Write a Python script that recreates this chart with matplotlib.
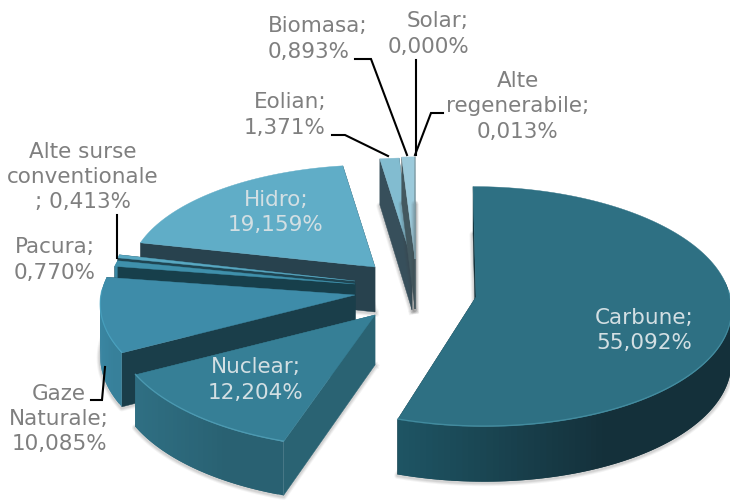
import numpy as np
import matplotlib
matplotlib.use("Agg")
import matplotlib.pyplot as plt
from matplotlib.colors import to_rgb

# ---- data ----
names = ["Carbune", "Nuclear", "Gaze Naturale", "Pacura", "Alte surse conventionale",
         "Hidro", "Eolian", "Biomasa", "Solar", "Alte regenerabile"]
values = [55.092, 12.204, 10.085, 0.770, 0.413, 19.159, 1.371, 0.893, 0.000, 0.013]
label_texts = ["Carbune;\n55,092%", "Nuclear;\n12,204%", "Gaze\nNaturale;\n10,085%",
               "Pacura;\n0,770%", "Alte surse\nconventionale\n; 0,413%", "Hidro;\n19,159%",
               "Eolian;\n1,371%", "Biomasa;\n0,893%", "Solar;\n0,000%",
               "Alte\nregenerabile;\n0,013%"]

# ---- layout: apex x, apex y, rx, ry, depth, front shear, back shear ----
geom = {
    "Carbune": (476, 297, 254, 120, 51, 8, 3),
    "Nuclear": (375, 315, 259, 124, 50, -4, 0),
    "Gaze Naturale": (355, 295, 254, 120, 52, 0, 0),
    "Pacura": (355, 284, 246, 120, 50, 0, 0),
    "Alte surse conventionale": (355, 281, 246, 120, 50, 0, 0),
    "Hidro": (375, 267, 245, 111, 45, 0, 0),
    "Eolian": (412, 260, 245, 111, 50, 0, 0),
    "Biomasa": (415, 259, 254, 111, 50, 0, 0),
    "Solar": (415, 259, 254, 111, 50, 0, 0),
    "Alte regenerabile": (415, 259, 254, 111, 50, 0, 0),
}
# top, cut face, wall left end, wall right end, rim
style = {
    "Carbune": ("#2e7083", "#123039", "#1e5564", "#14303a", "#4a97ab"),
    "Nuclear": ("#367f96", "#2a6373", "#2f6f83", "#296172", "#55a5bd"),
    "Gaze Naturale": ("#3e8ca9", "#1a3e4a", "#3a86a2", "#37809a", "#4aa6c4"),
    "Pacura": ("#3f90ab", "#173f4b", "#3a86a2", "#3a86a2", "#4aa6c4"),
    "Alte surse conventionale": ("#58a8c2", "#1f4552", "#4f9ab3", "#4f9ab3", "#6ab8d0"),
    "Hidro": ("#60adc7", "#28424e", "#4f93aa", "#4f93aa", "#74bdd4"),
    "Eolian": ("#82bcd0", "#374f5b", "#374f5b", "#374f5b", "#82bcd0"),
    "Biomasa": ("#9ccadb", "#43585f", "#43585f", "#43585f", "#9ccadb"),
    "Solar": ("#9ccadb", "#43585f", "#43585f", "#43585f", "#9ccadb"),
    "Alte regenerabile": ("#a6d0de", "#43585f", "#43585f", "#43585f", "#a6d0de"),
}
draw_order = ["Hidro", "Eolian", "Biomasa", "Solar", "Alte regenerabile",
              "Alte surse conventionale", "Pacura", "Gaze Naturale", "Nuclear", "Carbune"]

label_pos = {
    "Carbune": (644, 330.5, "#d3dfe3", "center"), "Nuclear": (256, 380, "#d3dfe3", "center"),
    "Hidro": (276, 212.5, "#d3dfe3", "center"),
    "Gaze Naturale": (59, 419, "#7f7f7f", "center"), "Pacura": (55, 260, "#7f7f7f", "center"),
    "Alte surse conventionale": (83, 177, "#7f7f7f", "center"),
    "Eolian": (326, 115, "#7f7f7f", "right"),
    "Biomasa": (268, 39, "#7f7f7f", "left"), "Solar": (469, 34, "#7f7f7f", "right"),
    "Alte regenerabile": (518, 106.5, "#7f7f7f", "center"),
}
leaders = [
    ([332, 345, 388], [135, 135, 156]),
    ([355, 371, 407], [59, 59, 155]),
    ([415.5, 415.5], [60, 155]),
    ([443, 431, 415], [113, 113, 155]),
    ([117, 117], [215, 258]),
    ([105, 102, 91], [367, 400, 400]),
]
PERSP = 0.08

fig = plt.figure(figsize=(7.3, 5), dpi=100)
ax = fig.add_axes([0, 0, 1, 1])
ax.set_xlim(0, 730)
ax.set_ylim(500, 0)
ax.axis("off")


def project(name, theta, r=1.0, z=0.0):
    """theta in degrees clockwise from 12 o'clock; z = 0 top, 1 bottom."""
    cx, cy, rx, ry, d, shear, back = geom[name]
    t = np.radians(theta)
    u, v = r * np.sin(t), -r * np.cos(t)
    s = 1 + PERSP * v
    return (cx + rx * u * s + shear * np.maximum(v, 0) + back * np.minimum(v, 0),
            cy + ry * v * s + d * z * s)


def mix(a, b, f):
    a, b = np.array(to_rgb(a)), np.array(to_rgb(b))
    return tuple(a + (b - a) * f)


edges = np.concatenate([[0], np.cumsum(values)]) * 3.6
spans = {n: (edges[i], edges[i + 1]) for i, n in enumerate(names)}
z = 1.0

for name in draw_order:
    a0, a1 = spans[name]
    if a1 - a0 <= 0:
        continue
    top, cut, w0, w1, rim = style[name]
    th = np.linspace(a0, a1, max(int((a1 - a0) * 0.8), 3))
    ax_x, ax_y = project(name, a0, 0.0)
    ax_bx, ax_by = project(name, a0, 0.0, 1.0)
    tx, ty = project(name, th)
    bx, by = project(name, th, 1.0, 1.0)

    # soft shadow around the underside
    sx = np.concatenate([[ax_bx], bx, [ax_bx]])
    sy = np.concatenate([[ax_by], by, [ax_by]])
    for lw, al in ((7, 0.06), (5, 0.08), (3, 0.1)):
        z += 0.01
        ax.plot(sx, sy + 1, color="#404040", lw=lw * 0.72, alpha=al,
                solid_joinstyle="round", zorder=z)

    # cut faces
    for i in (0, -1):
        z += 0.01
        ax.fill([ax_x, tx[i], bx[i], ax_bx], [ax_y, ty[i], by[i], ax_by],
                color=cut, lw=0.3, zorder=z)

    # outer wall, strip by strip, shaded along screen x
    xmin, xmax = min(tx.min(), bx.min()), max(tx.max(), bx.max())
    for j in range(len(th) - 1):
        if -np.cos(np.radians(th[j])) < -0.15:
            continue
        f = (0.5 * (tx[j] + tx[j + 1]) - xmin) / max(xmax - xmin, 1)
        c = mix(w0, w1, min(f * 1.6, 1.0))
        k = min(j + 2, len(th) - 1)   # overlap the next strip to hide seams
        z += 0.01
        ax.fill([tx[j], tx[k], bx[k], bx[j]], [ty[j], ty[k], by[k], by[j]],
                color=c, lw=0, zorder=z)

    # top face and lit rim
    z += 0.01
    ax.fill(np.concatenate([[ax_x], tx]), np.concatenate([[ax_y], ty]),
            color=top, lw=0.3, zorder=z)
    front = -np.cos(np.radians(th)) > -0.05
    if a1 - a0 > 10:
        z += 0.01
        ax.plot(tx[front], ty[front] - 0.6, color=rim, lw=0.9, alpha=0.7, zorder=z)

for xs, ys in leaders:
    ax.plot(xs, ys, color="black", lw=1.5, solid_joinstyle="miter", zorder=z + 1)

for name, txt in zip(names, label_texts):
    x, y, col, ha = label_pos[name]
    ax.text(x, y, txt, ha=ha, va="center", multialignment=ha, color=col, fontsize=15.5,
            family="DejaVu Sans", linespacing=1.32, zorder=z + 2)

fig.savefig("out.png", dpi=100, facecolor="white")
